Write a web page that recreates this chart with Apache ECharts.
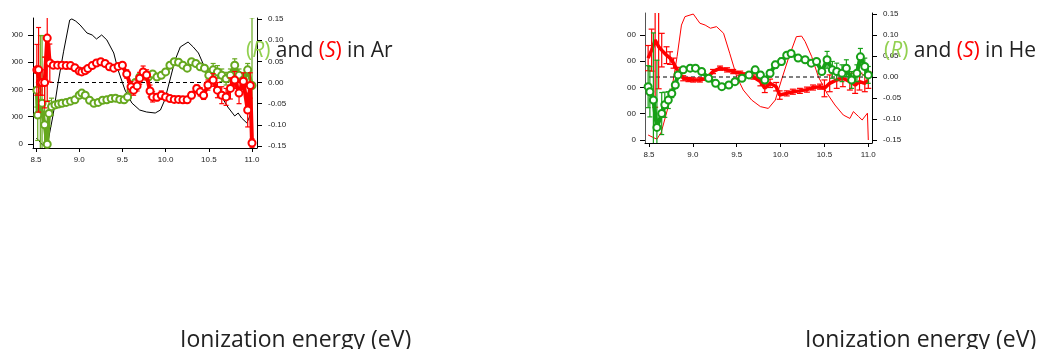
<!DOCTYPE html>
<html>
<head>
<meta charset="utf-8">
<script src="https://cdn.jsdelivr.net/npm/echarts@6/dist/echarts.min.js"></script>
<style>
  html, body { margin: 0; padding: 0; background: #fff; }
  #chart { width: 1041px; height: 349px; }
</style>
</head>
<body>
<div id="chart"></div>
<script>
// ---- Ar panel ----
const arSpecX = [8.505, 8.55, 8.58, 8.63, 8.7, 8.755, 8.82, 8.89, 8.915, 8.96, 9.01, 9.09, 9.15, 9.2, 9.26, 9.32, 9.4, 9.45, 9.53, 9.61, 9.7, 9.78, 9.88, 9.94, 9.99, 10.05, 10.11, 10.17, 10.26, 10.32, 10.38, 10.44, 10.49, 10.57, 10.65, 10.72, 10.8, 10.84, 10.88, 10.94, 10.98, 11.0];
const arSpecY = [220, 60, -50, -60, 1100, 2234, 3400, 4540, 4580, 4500, 4360, 4066, 3993, 3846, 3993, 3810, 3333, 2710, 1978, 1500, 1245, 1172, 1135, 1245, 1611, 2344, 3077, 3553, 3736, 3553, 3333, 2894, 2527, 2161, 1722, 1355, 1026, 1135, 952, 770, 1062, 440];

const arSX = [8.51, 8.53, 8.55, 8.57, 8.6, 8.63, 8.66, 8.7, 8.75, 8.8, 8.85, 8.9, 8.95, 9.0, 9.03, 9.07, 9.1, 9.15, 9.2, 9.25, 9.3, 9.35, 9.4, 9.45, 9.5, 9.55, 9.6, 9.63, 9.67, 9.7, 9.74, 9.78, 9.82, 9.85, 9.9, 9.95, 10.0, 10.05, 10.1, 10.15, 10.2, 10.25, 10.3, 10.36, 10.4, 10.44, 10.49, 10.55, 10.6, 10.65, 10.7, 10.75, 10.8, 10.85, 10.9, 10.95, 10.98, 11.0];
const arSY = [0.03, 0.03, 0.0, 0.0, 0.0, 0.105, 0.046, 0.041, 0.041, 0.041, 0.04, 0.04, 0.035, 0.027, 0.025, 0.028, 0.033, 0.04, 0.046, 0.049, 0.045, 0.037, 0.034, 0.038, 0.041, 0.02, -0.01, -0.018, -0.008, 0.01, 0.025, 0.018, -0.02, -0.034, -0.035, -0.03, -0.034, -0.038, -0.04, -0.04, -0.041, -0.041, -0.03, -0.014, -0.022, -0.03, -0.006, 0.006, -0.018, -0.03, -0.034, -0.014, 0.006, -0.025, 0.003, -0.065, -0.007, -0.143];
const arSErr = [0.06, 0.1, 0.03, 0.03, 0.06, 0.15, 0.045, 0.008, 0.005, 0.004, 0.004, 0.004, 0.004, 0.004, 0.004, 0.004, 0.004, 0.004, 0.004, 0.004, 0.004, 0.004, 0.005, 0.006, 0.006, 0.01, 0.012, 0.012, 0.012, 0.014, 0.014, 0.012, 0.014, 0.012, 0.008, 0.01, 0.008, 0.006, 0.006, 0.006, 0.006, 0.006, 0.008, 0.008, 0.01, 0.01, 0.012, 0.015, 0.018, 0.02, 0.02, 0.025, 0.02, 0.025, 0.02, 0.04, 0.03, 0.01];

const arRX = [8.51, 8.52, 8.55, 8.57, 8.6, 8.63, 8.65, 8.68, 8.72, 8.76, 8.8, 8.85, 8.9, 8.95, 9.0, 9.03, 9.07, 9.12, 9.17, 9.22, 9.27, 9.32, 9.37, 9.42, 9.47, 9.52, 9.56, 9.6, 9.65, 9.7, 9.75, 9.8, 9.85, 9.9, 9.95, 10.0, 10.05, 10.1, 10.15, 10.2, 10.25, 10.3, 10.35, 10.4, 10.45, 10.5, 10.55, 10.6, 10.65, 10.7, 10.75, 10.8, 10.85, 10.9, 10.95, 11.0];
const arRY = [-0.018, -0.077, -0.049, -0.049, -0.1, -0.146, -0.073, -0.057, -0.053, -0.051, -0.049, -0.047, -0.044, -0.041, -0.03, -0.025, -0.03, -0.042, -0.049, -0.047, -0.042, -0.041, -0.038, -0.037, -0.04, -0.041, -0.034, -0.018, 0.0, 0.013, 0.017, 0.013, 0.02, 0.013, 0.017, 0.025, 0.041, 0.049, 0.048, 0.041, 0.034, 0.049, 0.045, 0.037, 0.034, 0.017, 0.03, 0.025, 0.017, 0.009, 0.017, 0.041, 0.017, 0.006, 0.03, -0.007];
const arRErr = [0.04, 0.06, 0.16, 0.16, 0.16, 0.05, 0.03, 0.02, 0.008, 0.005, 0.004, 0.004, 0.004, 0.004, 0.004, 0.004, 0.004, 0.004, 0.004, 0.004, 0.004, 0.004, 0.004, 0.004, 0.004, 0.004, 0.004, 0.004, 0.006, 0.006, 0.006, 0.006, 0.006, 0.006, 0.006, 0.006, 0.006, 0.006, 0.006, 0.006, 0.006, 0.006, 0.006, 0.006, 0.006, 0.015, 0.015, 0.015, 0.015, 0.015, 0.015, 0.015, 0.015, 0.015, 0.015, 0.16];

// ---- He panel ----
const heSpecX = [8.49, 8.59, 8.64, 8.74, 8.82, 8.87, 8.91, 9.005, 9.08, 9.14, 9.2, 9.27, 9.35, 9.42, 9.5, 9.575, 9.67, 9.77, 9.86, 9.94, 10.01, 10.09, 10.18, 10.24, 10.28, 10.355, 10.43, 10.53, 10.62, 10.715, 10.79, 10.83, 10.89, 10.93, 10.99, 11.0];
const heSpecY = [19, 3, 30, 152, 317, 437, 469, 479, 444, 437, 425, 431, 406, 330, 241, 190, 152, 127, 120, 152, 228, 311, 393, 395, 374, 317, 241, 177, 133, 95, 82, 108, 89, 76, 102, 0];

const heSX = [8.49, 8.53, 8.57, 8.61, 8.645, 8.7, 8.74, 8.78, 8.83, 8.89, 8.95, 9.005, 9.08, 9.16, 9.23, 9.31, 9.39, 9.46, 9.54, 9.61, 9.69, 9.77, 9.82, 9.88, 9.95, 9.99, 10.07, 10.14, 10.22, 10.3, 10.37, 10.45, 10.5, 10.56, 10.64, 10.71, 10.79, 10.85, 10.9, 10.96, 11.0];
const heSY = [0.045, 0.064, 0.088, 0.072, 0.064, 0.052, 0.045, 0.033, 0.013, -0.003, -0.006, -0.007, -0.007, -0.003, 0.013, 0.021, 0.017, 0.013, 0.009, 0.005, 0.0, -0.011, -0.027, -0.015, -0.023, -0.043, -0.039, -0.035, -0.033, -0.03, -0.025, -0.023, -0.027, -0.015, -0.007, -0.003, -0.011, -0.019, -0.011, -0.015, -0.007];
const heSErr = [0.03, 0.05, 0.16, 0.1, 0.04, 0.02, 0.015, 0.012, 0.01, 0.006, 0.005, 0.005, 0.005, 0.005, 0.005, 0.005, 0.005, 0.005, 0.005, 0.005, 0.005, 0.01, 0.01, 0.01, 0.01, 0.01, 0.006, 0.006, 0.006, 0.006, 0.006, 0.006, 0.02, 0.02, 0.02, 0.02, 0.02, 0.02, 0.02, 0.02, 0.02];

const heRX = [8.49, 8.51, 8.55, 8.59, 8.645, 8.68, 8.72, 8.76, 8.8, 8.83, 8.89, 8.97, 9.03, 9.1, 9.18, 9.26, 9.33, 9.41, 9.48, 9.56, 9.64, 9.71, 9.77, 9.82, 9.88, 9.94, 10.01, 10.07, 10.12, 10.2, 10.28, 10.35, 10.41, 10.47, 10.53, 10.59, 10.64, 10.7, 10.75, 10.81, 10.87, 10.91, 10.96, 11.0];
const heRY = [-0.023, -0.035, -0.055, -0.12, -0.087, -0.066, -0.055, -0.039, -0.019, 0.005, 0.017, 0.021, 0.021, 0.013, -0.003, -0.015, -0.023, -0.019, -0.011, -0.003, 0.005, 0.017, 0.005, -0.007, 0.009, 0.029, 0.037, 0.052, 0.056, 0.045, 0.041, 0.033, 0.037, 0.013, 0.041, 0.017, 0.013, 0.009, 0.021, -0.007, 0.009, 0.048, 0.025, 0.005];
const heRErr = [0.05, 0.06, 0.16, 0.16, 0.05, 0.03, 0.02, 0.01, 0.008, 0.005, 0.004, 0.004, 0.004, 0.004, 0.004, 0.004, 0.004, 0.004, 0.004, 0.004, 0.004, 0.008, 0.008, 0.008, 0.008, 0.008, 0.008, 0.006, 0.006, 0.006, 0.006, 0.006, 0.006, 0.006, 0.02, 0.02, 0.02, 0.02, 0.02, 0.02, 0.02, 0.02, 0.02, 0.02];

const zeroX = [8.5, 11.0];
const xTicks = [8.5, 9.0, 9.5, 10.0, 10.5, 11.0];
const arLeftTicks = [0, 1000, 2000, 3000, 4000];
const heLeftTicks = [0, 100, 200, 300, 400];
const pecdTicks = [-0.15, -0.1, -0.05, 0, 0.05, 0.1, 0.15];

const FONT = 'Liberation Sans';
const TEXT_FONT = 'Open Sans';
const RED = '#ff0000';
const AR_GREEN = '#66a81e';
const HE_GREEN = '#17a017';
const R_LABEL = '#92d050';

const pairs = (xs, ys) => xs.map((x, i) => [x, ys[i]]);
const triples = (xs, ys, es) => xs.map((x, i) => [x, ys[i], es[i]]);

function errorBars(color, cap, width) {
  return function (params, api) {
    const x = api.value(0), y = api.value(1), e = api.value(2);
    const hi = api.coord([x, y + e]);
    const lo = api.coord([x, y - e]);
    const hw = cap / 2;
    const st = { stroke: color, lineWidth: width };
    return {
      type: 'group',
      children: [
        { type: 'line', shape: { x1: hi[0], y1: hi[1], x2: lo[0], y2: lo[1] }, style: st },
        { type: 'line', shape: { x1: hi[0] - hw, y1: hi[1], x2: hi[0] + hw, y2: hi[1] }, style: st },
        { type: 'line', shape: { x1: lo[0] - hw, y1: lo[1], x2: lo[0] + hw, y2: lo[1] }, style: st }
      ]
    };
  };
}

function xAxisOf(gridIndex, min, max) {
  return {
    type: 'value', gridIndex, min, max,
    axisLine: { onZero: false, lineStyle: { color: '#000', width: 1 } },
    axisTick: { customValues: xTicks, length: 4, lineStyle: { color: '#000' } },
    axisLabel: { customValues: xTicks, margin: 8, fontSize: 8, fontFamily: FONT, color: '#222',
      formatter: v => v.toFixed(1) },
    splitLine: { show: false }
  };
}

function yAxisOf(gridIndex, position, min, max, ticks, fmt, margin, lineColor) {
  return {
    type: 'value', gridIndex, position, min, max,
    axisLine: { show: true, onZero: false, lineStyle: { color: lineColor, width: 1 } },
    axisTick: { show: true, customValues: ticks, length: 5, lineStyle: { color: '#000' } },
    axisLabel: { customValues: ticks, margin, fontSize: 8, fontFamily: FONT, color: '#222', formatter: fmt },
    splitLine: { show: false }
  };
}

function titleText(left, gas) {
  const fs = 21;
  return {
    type: 'text', left, top: 41, z: 110,
    style: {
      text: '{g|(}{gi|R}{g|)} and {r|(}{ri|S}{r|)} in ' + gas,
      font: fs + 'px "' + TEXT_FONT + '"', fill: '#222',
      rich: {
        g: { fill: R_LABEL, fontSize: fs, fontFamily: TEXT_FONT },
        gi: { fill: R_LABEL, fontSize: fs, fontFamily: TEXT_FONT, fontStyle: 'italic' },
        r: { fill: RED, fontSize: fs, fontFamily: TEXT_FONT },
        ri: { fill: RED, fontSize: fs, fontFamily: TEXT_FONT, fontStyle: 'italic' }
      }
    }
  };
}

const chart = echarts.init(document.getElementById('chart'));

const option = {
  animation: false,
  backgroundColor: '#fff',
  grid: [
    { left: 33, top: 18, width: 224, height: 130 },
    { left: 645, top: 13, width: 227, height: 130 }
  ],
  xAxis: [
    xAxisOf(0, 8.5 - 3 / 86.4, 8.5 - 3 / 86.4 + 224 / 86.4),
    xAxisOf(1, 8.5 - 4 / 87.72, 8.5 - 4 / 87.72 + 227 / 87.72)
  ],
  yAxis: [
    yAxisOf(0, 'left', -146, 4615, arLeftTicks, v => String(v), 10, '#000'),
    yAxisOf(0, 'right', -0.1548, 0.1525, pecdTicks, v => v.toFixed(2), 11, '#000'),
    yAxisOf(1, 'left', -11.4, 482.9, heLeftTicks, v => String(v), 9, '#555'),
    yAxisOf(1, 'right', -0.1571, 0.1524, pecdTicks, v => v.toFixed(2), 11, '#000')
  ],
  series: [
    // Ar
    { type: 'line', xAxisIndex: 0, yAxisIndex: 0, data: pairs(arSpecX, arSpecY), symbol: 'none',
      lineStyle: { color: '#000', width: 1 }, z: 2 },
    { type: 'line', xAxisIndex: 0, yAxisIndex: 1, data: pairs(zeroX, [0, 0]), symbol: 'none',
      lineStyle: { color: '#000', width: 1, type: [4, 3] }, z: 3 },
    { type: 'custom', xAxisIndex: 0, yAxisIndex: 1, clip: true, data: triples(arRX, arRY, arRErr),
      renderItem: errorBars(AR_GREEN, 5, 1.2), z: 4 },
    { type: 'line', xAxisIndex: 0, yAxisIndex: 1, data: pairs(arRX, arRY), symbol: 'emptyCircle', symbolSize: 7,
      showAllSymbol: true, clip: true, lineStyle: { color: AR_GREEN, width: 4 },
      itemStyle: { color: AR_GREEN, borderColor: AR_GREEN, borderWidth: 2 }, z: 5 },
    { type: 'custom', xAxisIndex: 0, yAxisIndex: 1, clip: true, data: triples(arSX, arSY, arSErr),
      renderItem: errorBars(RED, 5, 1.2), z: 6 },
    { type: 'line', xAxisIndex: 0, yAxisIndex: 1, data: pairs(arSX, arSY), symbol: 'emptyCircle', symbolSize: 7,
      showAllSymbol: true, clip: true, lineStyle: { color: RED, width: 4 },
      itemStyle: { color: RED, borderColor: RED, borderWidth: 2 }, z: 7 },
    // He
    { type: 'line', xAxisIndex: 1, yAxisIndex: 2, data: pairs(heSpecX, heSpecY), symbol: 'none',
      lineStyle: { color: RED, width: 1 }, z: 2 },
    { type: 'line', xAxisIndex: 1, yAxisIndex: 3, data: pairs(zeroX, [0, 0]), symbol: 'none',
      lineStyle: { color: '#000', width: 1, type: [4, 3] }, z: 3 },
    { type: 'custom', xAxisIndex: 1, yAxisIndex: 3, clip: true, data: triples(heSX, heSY, heSErr),
      renderItem: errorBars(RED, 6, 1.2), z: 4 },
    { type: 'line', xAxisIndex: 1, yAxisIndex: 3, data: pairs(heSX, heSY), symbol: 'none', clip: true,
      lineStyle: { color: RED, width: 3.5 }, z: 5 },
    { type: 'custom', xAxisIndex: 1, yAxisIndex: 3, clip: true, data: triples(heRX, heRY, heRErr),
      renderItem: errorBars(HE_GREEN, 5, 1.2), z: 6 },
    { type: 'line', xAxisIndex: 1, yAxisIndex: 3, data: pairs(heRX, heRY), symbol: 'emptyCircle', symbolSize: 7,
      showAllSymbol: true, clip: true, lineStyle: { color: HE_GREEN, width: 4 },
      itemStyle: { color: HE_GREEN, borderColor: HE_GREEN, borderWidth: 2 }, z: 7 }
  ],
  graphic: [
    // the source picture is cropped at these edges
    { type: 'rect', left: 0, top: 0, shape: { width: 12, height: 175 }, style: { fill: '#fff' }, z: 100 },
    { type: 'rect', left: 600, top: 0, shape: { width: 27, height: 175 }, style: { fill: '#fff' }, z: 100 },
    titleText(246, 'Ar'),
    titleText(884, 'He'),
    { type: 'text', left: 180, top: 329, z: 110,
      style: { text: 'Ionization energy (eV)', font: '23px "' + TEXT_FONT + '"', fill: '#222' } },
    { type: 'text', left: 805, top: 329, z: 110,
      style: { text: 'Ionization energy (eV)', font: '23px "' + TEXT_FONT + '"', fill: '#222' } }
  ]
};

chart.setOption(option);
</script>
</body>
</html>
